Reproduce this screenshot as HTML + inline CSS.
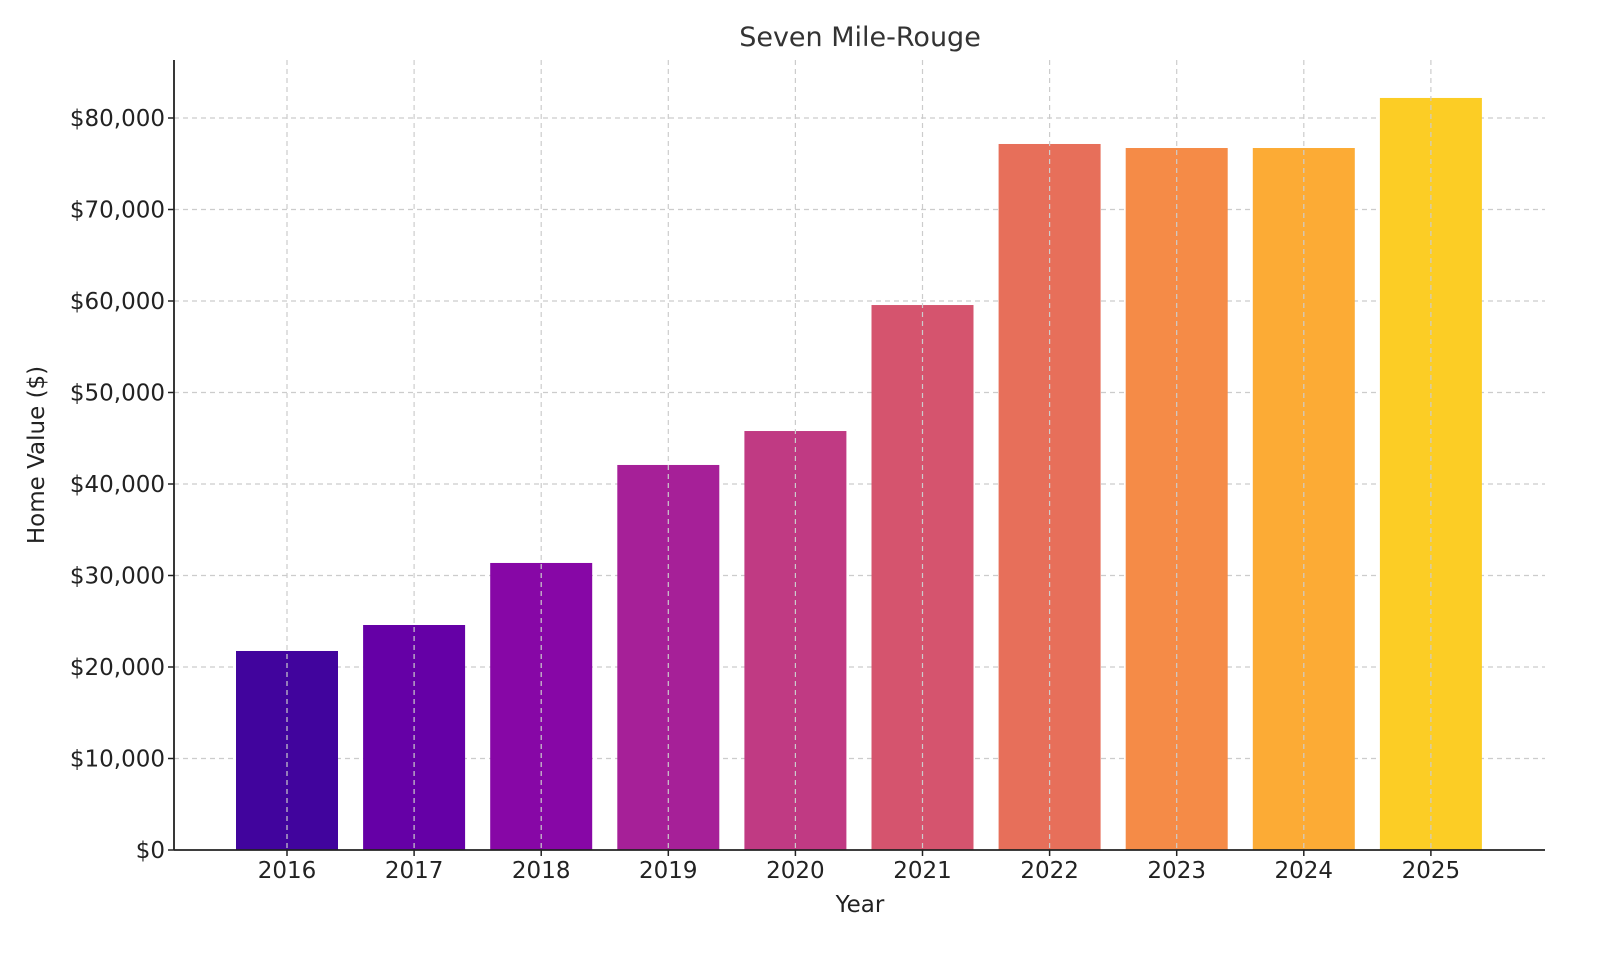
<!DOCTYPE html>
<html><head><meta charset="utf-8"><style>
html,body{margin:0;padding:0;background:#fff;}
svg{display:block;font-family:"DejaVu Sans","Liberation Sans",sans-serif;}
</style></head><body>
<svg id="chart" width="1600" height="960" viewBox="0 0 1600 960">
<text x="860" y="46" font-size="27" fill="#333" text-anchor="middle">Seven Mile-Rouge</text>
<g id="grid"></g>
<g id="bars"></g>
<g id="axes"></g>
<text x="860" y="912" font-size="23" fill="#222" text-anchor="middle">Year</text>
<text transform="translate(44,455) rotate(-90)" font-size="23" fill="#222" text-anchor="middle">Home Value ($)</text>
</svg>
<script>
const years = ["2016","2017","2018","2019","2020","2021","2022","2023","2024","2025"];
const values = [21750, 24590, 31370, 42080, 45790, 59560, 77160, 76720, 76720, 82190];
const colors = ["#41049d","#6500a6","#8707a6","#a62098","#c03a83","#d5546e","#e76f5a","#f58b47","#fcab35","#fccd25"];
const yTicks = [0,10000,20000,30000,40000,50000,60000,70000,80000];
const yTickLabels = ["$0","$10,000","$20,000","$30,000","$40,000","$50,000","$60,000","$70,000","$80,000"];

const NS="http://www.w3.org/2000/svg";
const L=174,R=1545,T=60,B=850;
const y=v=>B-v*(B-118)/80000;
const x=i=>287+i*127.1;
const bw=102;
function mk(tag,attrs,parent){const e=document.createElementNS(NS,tag);for(const k in attrs)e.setAttribute(k,attrs[k]);parent.appendChild(e);return e;}
const grid=document.getElementById('grid'),bars=document.getElementById('bars'),axes=document.getElementById('axes');
yTicks.forEach((t,i)=>{
  if(t>0){const g=mk('line',{x1:L,x2:R,y1:y(t),y2:y(t),stroke:'#ccc','stroke-dasharray':'5,4','stroke-width':1.2},grid);
  
  }
  const tk=mk('line',{x1:L-6,x2:L,y1:y(t),y2:y(t),stroke:'#222','stroke-width':1.5},axes);
  
  
  const lb=mk('text',{x:L-9,y:y(t)+8,'font-size':23,fill:'#222','text-anchor':'end'},axes);
  lb.textContent=yTickLabels[i];
  
  
});
years.forEach((yr,i)=>{
  const r=mk('rect',{x:x(i)-bw/2,y:y(values[i]),width:bw,height:B-y(values[i]),fill:colors[i]},bars);
  
  
  const g=mk('line',{x1:x(i),x2:x(i),y1:T,y2:B,stroke:'#ccc','stroke-dasharray':'5,4','stroke-width':1.2},bars);
  
  
  const tk=mk('line',{x1:x(i),x2:x(i),y1:B,y2:B+6,stroke:'#222','stroke-width':1.5},axes);
  
  
  const lb=mk('text',{x:x(i),y:B+28,'font-size':23,fill:'#222','text-anchor':'middle'},axes);
  lb.textContent=yr;
  
  
});
const ya=mk('line',{x1:L,x2:L,y1:T,y2:B,stroke:'#222','stroke-width':1.8},axes);


const xa=mk('line',{x1:L,x2:R,y1:B,y2:B,stroke:'#222','stroke-width':1.8},axes);


</script>
</body></html>
